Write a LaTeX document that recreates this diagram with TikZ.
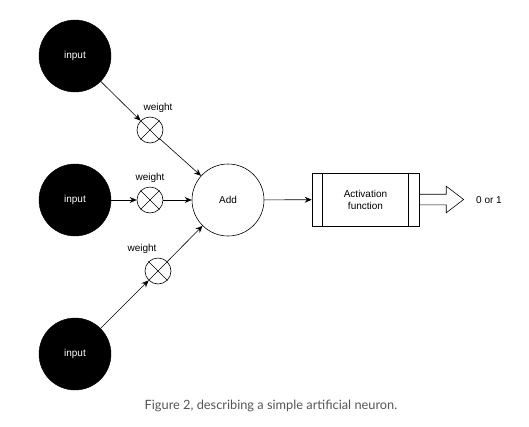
\documentclass[tikz,border=0pt]{standalone}
\usepackage{fontspec}
\setmainfont{Liberation Sans}
\newfontfamily\capfont{Lato}
\usetikzlibrary{arrows.meta,shapes.arrows,calc}
\tikzset{
  inputnode/.style={circle, fill=black, draw=black, minimum size=72pt, inner sep=0pt, text=white, font=\fontsize{10}{12}\selectfont},
  weightnode/.style={circle, draw=black, line width=0.6pt, minimum size=26pt, inner sep=0pt},
  addnode/.style={circle, draw=black, line width=0.6pt, minimum size=72pt, inner sep=0pt, font=\fontsize{10}{12}\selectfont},
  lbl/.style={font=\fontsize{10}{12}\selectfont, inner sep=0pt},
  conn/.style={draw=black, line width=0.6pt, -{Stealth[length=7pt,width=6pt]}},
  actbox/.style={rectangle, draw=black, line width=0.6pt, minimum width=107pt, minimum height=53pt, inner sep=0pt, align=center, font=\fontsize{10}{12}\selectfont},
  blockarrow/.style={single arrow, draw=black, line width=0.6pt, minimum height=44pt, minimum width=26pt, inner sep=5pt, single arrow head extend=8pt, single arrow tip angle=75},
}
\begin{document}
\begin{tikzpicture}[x=1pt,y=-1pt]
\useasboundingbox (0,0) rectangle (529,426);
\node[inputnode] (in1) at (75,56) {input};
\node[inputnode] (in2) at (75,200) {input};
\node[inputnode] (in3) at (75,354) {input};
\node[weightnode] (w1) at (150,130) {};
\node[weightnode] (w2) at (150,200) {};
\node[weightnode] (w3) at (158,271) {};
\foreach \w in {w1,w2,w3}{
  \draw[line width=0.6pt] (\w.north west) -- (\w.south east);
  \draw[line width=0.6pt] (\w.north east) -- (\w.south west);
}
\node[lbl] (lw1) at (158,108) {weight};
\node[lbl] (lw2) at (150,178) {weight};
\node[lbl] (lw3) at (142,249) {weight};
\node[addnode] (add) at (228,200) {Add};
\node[actbox] (act) at (365.5,199.5) {Activation\\function};
\draw[line width=0.6pt] ($(act.north west)+(11,0)$) -- ($(act.south west)+(11,0)$);
\draw[line width=0.6pt] ($(act.north east)+(-11,0)$) -- ($(act.south east)+(-11,0)$);
\node[blockarrow, anchor=tail] (out) at (act.east) {};
\node[lbl] (res) at (489,200) {0 or 1};
\draw[conn] (in1) -- (w1);
\draw[conn] (w1) -- (add);
\draw[conn] (in2) -- (w2);
\draw[conn] (w2) -- (add);
\draw[conn] (in3) -- (w3);
\draw[conn] (w3) -- (add);
\draw[conn] (add) -- (act);
\node[font=\capfont\fontsize{12.8}{15}\selectfont, text={rgb,255:red,85;green,85;blue,85}, inner sep=0pt] (cap) at (271,406) {Figure 2, describing a simple artificial neuron.};
\end{tikzpicture}
\end{document}
